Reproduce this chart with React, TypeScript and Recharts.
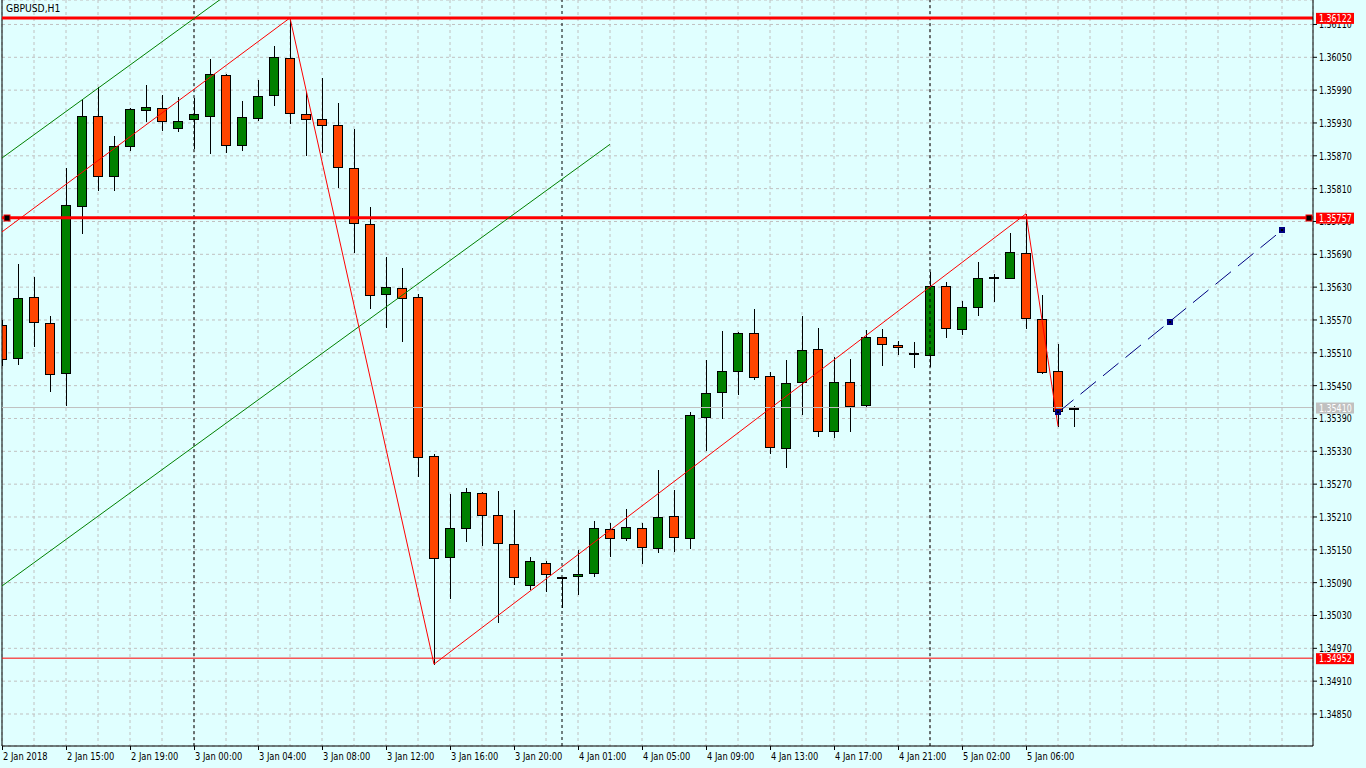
import React from 'react';
import {
  ComposedChart,
  Bar,
  XAxis,
  YAxis,
  CartesianGrid,
  ReferenceLine,
  ReferenceDot
} from 'recharts';

const FONT = '"DejaVu Sans Condensed", "DejaVu Sans", sans-serif';

// GBPUSD H1, one label every 4 bars starting at bar 0
const timeLabels = [
  '2 Jan 2018', '2 Jan 15:00', '2 Jan 19:00', '3 Jan 00:00', '3 Jan 04:00', '3 Jan 08:00',
  '3 Jan 12:00', '3 Jan 16:00', '3 Jan 20:00', '4 Jan 01:00', '4 Jan 05:00', '4 Jan 09:00',
  '4 Jan 13:00', '4 Jan 17:00', '4 Jan 21:00', '5 Jan 02:00', '5 Jan 06:00'
];

const opens = [
  1.35561, 1.35501, 1.35612, 1.35565, 1.35473, 1.35778, 1.35943, 1.35833, 1.35888, 1.35954,
  1.35957, 1.35921, 1.35937, 1.35943, 1.36018, 1.35890, 1.35939, 1.35981, 1.36049, 1.35946,
  1.35937, 1.35926, 1.35848, 1.35745, 1.35617, 1.35628, 1.35612, 1.35322, 1.35137, 1.35190,
  1.35254, 1.35214, 1.35161, 1.35086, 1.35126, 1.35099, 1.35102, 1.35108, 1.35188, 1.35172,
  1.35190, 1.35153, 1.35212, 1.35172, 1.35393, 1.35438, 1.35477, 1.35546, 1.35468, 1.35336,
  1.35457, 1.35517, 1.35367, 1.35457, 1.35415, 1.35539, 1.35524, 1.35508, 1.35506, 1.35632,
  1.35554, 1.35594, 1.35647, 1.35647, 1.35692, 1.35572, 1.35477, 1.35407
];

const highs = [
  1.35570, 1.35672, 1.35649, 1.35577, 1.35848, 1.35974, 1.35996, 1.35906, 1.35957, 1.35999,
  1.35981, 1.35977, 1.35976, 1.36047, 1.36020, 1.35970, 1.36009, 1.36071, 1.36122, 1.35987,
  1.36012, 1.35967, 1.35919, 1.35776, 1.35685, 1.35665, 1.35617, 1.35325, 1.35252, 1.35263,
  1.35256, 1.35258, 1.35223, 1.35137, 1.35130, 1.35100, 1.35150, 1.35203, 1.35199, 1.35225,
  1.35199, 1.35296, 1.35259, 1.35402, 1.35497, 1.35550, 1.35548, 1.35590, 1.35475, 1.35497,
  1.35577, 1.35555, 1.35502, 1.35499, 1.35552, 1.35554, 1.35532, 1.35530, 1.35658, 1.35639,
  1.35605, 1.35676, 1.35654, 1.35729, 1.35764, 1.35616, 1.35526, 1.35413
];

const lows = [
  1.35488, 1.35490, 1.35522, 1.35440, 1.35415, 1.35729, 1.35808, 1.35808, 1.35881, 1.35934,
  1.35917, 1.35915, 1.35884, 1.35875, 1.35877, 1.35881, 1.35935, 1.35963, 1.35930, 1.35872,
  1.35877, 1.35813, 1.35694, 1.35592, 1.35557, 1.35532, 1.35285, 1.34941, 1.35062, 1.35166,
  1.35159, 1.35018, 1.35088, 1.35078, 1.35075, 1.35046, 1.35069, 1.35102, 1.35139, 1.35168,
  1.35126, 1.35146, 1.35148, 1.35153, 1.35332, 1.35391, 1.35435, 1.35462, 1.35327, 1.35301,
  1.35398, 1.35358, 1.35356, 1.35367, 1.35411, 1.35488, 1.35508, 1.35484, 1.35486, 1.35539,
  1.35544, 1.35579, 1.35605, 1.35647, 1.35555, 1.35473, 1.35376, 1.35376
];

const closes = [
  1.35499, 1.35610, 1.35566, 1.35471, 1.35780, 1.35943, 1.35833, 1.35888, 1.35956, 1.35959,
  1.35934, 1.35934, 1.35946, 1.36020, 1.35890, 1.35941, 1.35979, 1.36051, 1.35948, 1.35937,
  1.35926, 1.35850, 1.35747, 1.35616, 1.35630, 1.35610, 1.35320, 1.35135, 1.35190, 1.35256,
  1.35214, 1.35162, 1.35100, 1.35130, 1.35106, 1.35099, 1.35106, 1.35190, 1.35172, 1.35192,
  1.35155, 1.35210, 1.35173, 1.35396, 1.35437, 1.35477, 1.35546, 1.35466, 1.35338, 1.35455,
  1.35515, 1.35367, 1.35457, 1.35413, 1.35539, 1.35526, 1.35521, 1.35508, 1.35632, 1.35555,
  1.35594, 1.35647, 1.35647, 1.35694, 1.35574, 1.35475, 1.35404, 1.35410
];

const priceTicks = [
  1.36110, 1.36050, 1.35990, 1.35930, 1.35870, 1.35810, 1.35750, 1.35690, 1.35630, 1.35570,
  1.35510, 1.35450, 1.35390, 1.35330, 1.35270, 1.35210, 1.35150, 1.35090, 1.35030, 1.34970,
  1.34910, 1.34850
];

const gridBars = [0, 2, 4, 6, 8, 10, 12, 14, 16, 18, 20, 22, 24, 26, 28, 30, 32, 34, 36, 38, 40,
  42, 44, 46, 48, 50, 52, 54, 56, 58, 60, 62, 64, 66, 68, 70, 72, 74, 76, 78, 80];

const separatorBars = [12, 35, 58];

// zigzag vertices
const zigzagBars = [0, 18, 27, 64, 66];
const zigzagPrices = [1.35731, 1.36122, 1.34941, 1.35764, 1.35376];

// parallel channel (green)
const channelBars = [0, 38];
const lowerChannelPrices = [1.35084, 1.35891];
const upperChannelPrices = [1.35866, 1.36673];

// horizontal levels
const thickLevels = [1.36122, 1.35757];
const thinLevel = 1.34952;
const bidPrice = 1.35410;
const levelHandleBars = [0.29, 81.66];

// dashed projection
const projectionBars = [66, 73, 80];
const projectionPrices = [1.35401, 1.35566, 1.35734];

const X_MAX = 81.9375;
const Y_MIN = 1.347915;
const Y_MAX = 1.361547;

const candles = opens.map((o, i) => ({
  i,
  open: o,
  high: highs[i],
  low: lows[i],
  close: closes[i]
}));

// MT4 uses a narrow bitmap font, squeeze a condensed one horizontally
function NarrowText({ x, y, sx, fill, children }: any) {
  return (
    <text
      transform={`translate(${x} ${y}) scale(${sx} 1)`}
      fontSize={11}
      fontFamily={FONT}
      fill={fill}
    >
      {children}
    </text>
  );
}

function Candle(props: any) {
  const { x, y, width, height, payload } = props;
  if (x == null || payload == null) return <g />;
  const top = Math.min(y, y + height);
  const h = Math.abs(height);
  const { open, high, low, close } = payload;
  const toY = (p: number) => top + (h * (high - p)) / (high - low);
  const cx = Math.round(x + width / 2);
  const yHigh = Math.round(toY(high));
  const yLow = Math.round(toY(low));
  const yTop = Math.round(toY(Math.max(open, close)));
  const yBot = Math.round(toY(Math.min(open, close)));
  const fill = close > open ? '#008000' : '#FF4500';
  return (
    <g>
      <line x1={cx + 0.5} x2={cx + 0.5} y1={yHigh} y2={yLow + 1} stroke="#000" strokeWidth={1} />
      {open === close ? (
        <line x1={cx - 5} x2={cx + 5} y1={yTop} y2={yTop} stroke="#000" strokeWidth={2} />
      ) : (
        <rect
          x={cx - 4.5}
          y={yTop + 0.5}
          width={9}
          height={Math.max(yBot - yTop, 1)}
          fill={fill}
          stroke="#000"
          strokeWidth={1}
        />
      )}
    </g>
  );
}

function TimeTick(props: any) {
  const { x, y, payload } = props;
  const idx = payload.value / 4;
  const label = Number.isInteger(idx) ? timeLabels[idx] : undefined;
  if (!label) return <g />;
  const px = Math.round(x) + 0.5;
  return (
    <g>
      <line x1={px} x2={px} y1={y - 4} y2={y} stroke="#000" />
      <NarrowText x={x + 1} y={y + 10} sx={0.84} fill="#000">{label}</NarrowText>
    </g>
  );
}

function PriceTick(props: any) {
  const { x, y, payload } = props;
  return (
    <NarrowText x={x} y={y + 4} sx={0.8} fill="#000">
      {Number(payload.value).toFixed(5)}
    </NarrowText>
  );
}

function PriceTag({ cx, cy, text, fill }: { cx: number; cy: number; text: string; fill: string }) {
  return (
    <g>
      <rect x={cx + 3} y={cy - 5} width={38} height={11} fill={fill} />
      <NarrowText x={cx + 6} y={cy + 4} sx={0.8} fill="#fff">{text}</NarrowText>
    </g>
  );
}

function Handle(props: any) {
  const { cx, cy } = props;
  return <rect x={Math.round(cx) - 3} y={Math.round(cy) - 3} width={6} height={6} fill="#000" stroke="#FF0000" />;
}

function NavyPoint(props: any) {
  const { cx, cy } = props;
  const x = Math.round(cx);
  const y = Math.round(cy);
  return (
    <g>
      <rect x={x - 3} y={y - 3} width={6} height={6} fill="#000080" />
      <rect x={x - 1} y={y - 1} width={2} height={2} fill="#000" />
    </g>
  );
}

export default function App() {
  return (
    <div
      style={{
        position: 'absolute',
        left: 0,
        top: 0,
        width: 1366,
        height: 768,
        background: '#E0FFFF',
        overflow: 'hidden'
      }}
    >
      <div
        style={{
          position: 'absolute',
          left: 6,
          top: 2,
          fontSize: 11,
          lineHeight: '14px',
          fontFamily: FONT,
          color: '#000',
          zIndex: 1,
          pointerEvents: 'none',
          transform: 'scaleX(0.93)',
          transformOrigin: 'left top'
        }}
      >
        GBPUSD,H1
      </div>
      <ComposedChart
        width={1366}
        height={768}
        data={candles}
        margin={{ top: 0, right: 0, bottom: 0, left: 2 }}
      >
        <CartesianGrid stroke="#C0C0C0" strokeDasharray="3 3" />
        <XAxis
          dataKey="i"
          type="number"
          domain={[0, X_MAX]}
          allowDataOverflow
          ticks={gridBars}
          interval={0}
          tick={TimeTick}
          tickLine={false}
          tickSize={4}
          tickMargin={0}
          axisLine={{ stroke: '#000' }}
          height={22}
        />
        <YAxis
          orientation="right"
          type="number"
          domain={[Y_MIN, Y_MAX]}
          allowDataOverflow
          ticks={priceTicks}
          interval={0}
          tick={PriceTick}
          tickSize={4}
          tickMargin={2}
          tickLine={{ stroke: '#000' }}
          axisLine={{ stroke: '#000' }}
          width={53}
        />
        <Bar
          dataKey={(d: any) => [d.low, d.high]}
          barSize={10}
          shape={Candle}
          isAnimationActive={false}
        />

        <ReferenceLine x={0} stroke="#000" ifOverflow="visible" />

        {separatorBars.map(b => (
          <ReferenceLine key={`sep-${b}`} x={b} stroke="#000" strokeDasharray="3 3" />
        ))}

        <ReferenceLine y={bidPrice} stroke="#C0C0C0" />
        <ReferenceLine y={thinLevel} stroke="#FF0000" />
        {thickLevels.map(p => (
          <ReferenceLine key={`lvl-${p}`} y={p} stroke="#FF0000" strokeWidth={3} />
        ))}

        <ReferenceLine
          segment={[
            { x: channelBars[0], y: lowerChannelPrices[0] },
            { x: channelBars[1], y: lowerChannelPrices[1] }
          ]}
          stroke="#008000"
          ifOverflow="hidden"
        />
        <ReferenceLine
          segment={[
            { x: channelBars[0], y: upperChannelPrices[0] },
            { x: channelBars[1], y: upperChannelPrices[1] }
          ]}
          stroke="#008000"
          ifOverflow="hidden"
        />

        {zigzagBars.slice(1).map((b, k) => (
          <ReferenceLine
            key={`zz-${k}`}
            segment={[
              { x: zigzagBars[k], y: zigzagPrices[k] },
              { x: b, y: zigzagPrices[k + 1] }
            ]}
            stroke="#FF0000"
            ifOverflow="hidden"
          />
        ))}

        <ReferenceLine
          segment={[
            { x: projectionBars[0], y: projectionPrices[0] },
            { x: projectionBars[2], y: projectionPrices[2] }
          ]}
          stroke="#000080"
          strokeDasharray="20 9"
          ifOverflow="hidden"
        />
        {projectionBars.map((b, k) => (
          <ReferenceDot key={`pp-${b}`} x={b} y={projectionPrices[k]} shape={NavyPoint} ifOverflow="visible" />
        ))}

        {levelHandleBars.map(b => (
          <ReferenceDot key={`h-${b}`} x={b} y={thickLevels[1]} shape={Handle} ifOverflow="visible" />
        ))}

        {thickLevels.map(p => (
          <ReferenceDot
            key={`tag-${p}`}
            x={X_MAX}
            y={p}
            ifOverflow="visible"
            zIndex={3000}
            shape={(s: any) => <PriceTag cx={s.cx} cy={s.cy} text={p.toFixed(5)} fill="#FF0000" />}
          />
        ))}
        <ReferenceDot
          x={X_MAX}
          y={thinLevel}
          ifOverflow="visible"
          zIndex={3000}
          shape={(s: any) => <PriceTag cx={s.cx} cy={s.cy} text={thinLevel.toFixed(5)} fill="#FF0000" />}
        />
        <ReferenceDot
          x={X_MAX}
          y={bidPrice}
          ifOverflow="visible"
          zIndex={3000}
          shape={(s: any) => <PriceTag cx={s.cx} cy={s.cy} text={bidPrice.toFixed(5)} fill="#C0C0C0" />}
        />
      </ComposedChart>
    </div>
  );
}
